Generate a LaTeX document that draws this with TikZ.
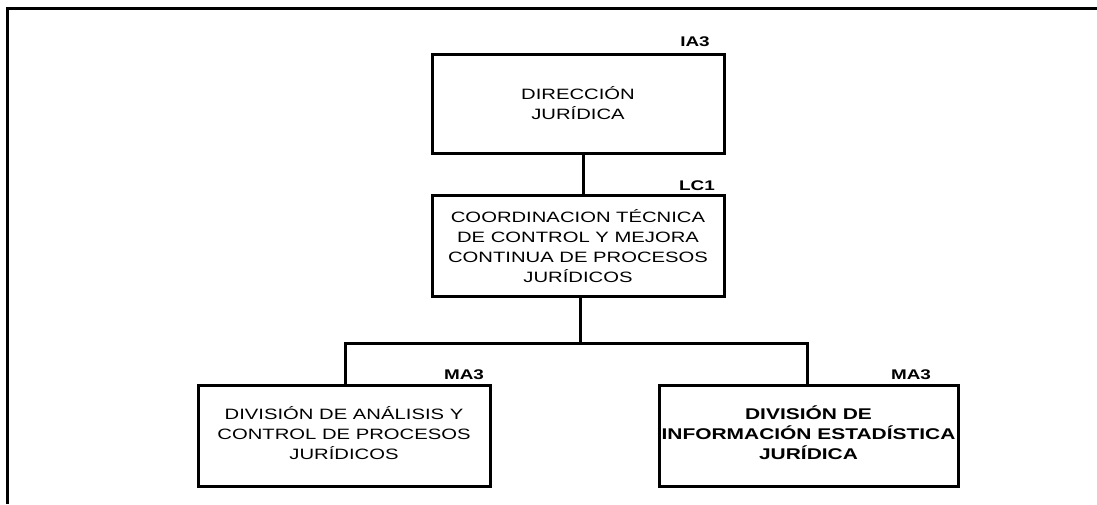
\documentclass[tikz,border=0pt]{standalone}
\usepackage{fontspec}
\setmainfont[FakeStretch=1.35]{Liberation Sans}
\begin{document}
\begin{tikzpicture}[x=1pt,y=-1pt,
  unitbox/.style={draw=black,line width=3pt,fill=white,inner sep=0pt,align=center,
    font=\fontsize{15}{20}\selectfont},
  codelabel/.style={inner sep=0pt,font=\fontsize{14}{16}\selectfont\bfseries},
  link/.style={line width=3pt}]
\useasboundingbox (0,0) rectangle (1097,504);
\draw[line width=3pt] (7,504) -- (7,8) -- (1097,8);
% boxes
\node[unitbox,minimum width=292pt,minimum height=99pt] (dir) at (578,103.5) {DIRECCIÓN\\JURÍDICA};
\node[unitbox,minimum width=292pt,minimum height=101pt] (coord) at (578,246) {COORDINACION TÉCNICA\\DE CONTROL Y MEJORA\\CONTINUA DE PROCESOS\\JURÍDICOS};
\node[unitbox,minimum width=292pt,minimum height=101pt] (anal) at (344,435.5) {\raisebox{-7pt}{\begin{tabular}{@{}c@{}}DIVISIÓN DE ANÁLISIS Y\\CONTROL DE PROCESOS\\JURÍDICOS\end{tabular}}};
\node[unitbox,minimum width=299pt,minimum height=101pt] (info) at (808.5,435.5) {\raisebox{-7pt}{\fontsize{15.5}{20}\selectfont\bfseries\begin{tabular}{@{}c@{}}DIVISIÓN DE\\INFORMACIÓN ESTADÍSTICA\\JURÍDICA\end{tabular}}};
% labels
\node[codelabel] (lia) at (695,42) {IA3};
\node[codelabel] (llc) at (697,186) {LC1};
\node[codelabel] (lma1) at (464,375) {MA3};
\node[codelabel] (lma2) at (911,375) {MA3};
% connectors
\coordinate (bus) at (580,343);
\draw[link] (dir.south -| 583,0) -- (coord.north -| 583,0);
\draw[link] (coord.south -| bus) -- (bus);
\draw[link] (anal.north -| 345,0) |- (bus) -| (info.north -| 807,0);
\end{tikzpicture}
\end{document}
